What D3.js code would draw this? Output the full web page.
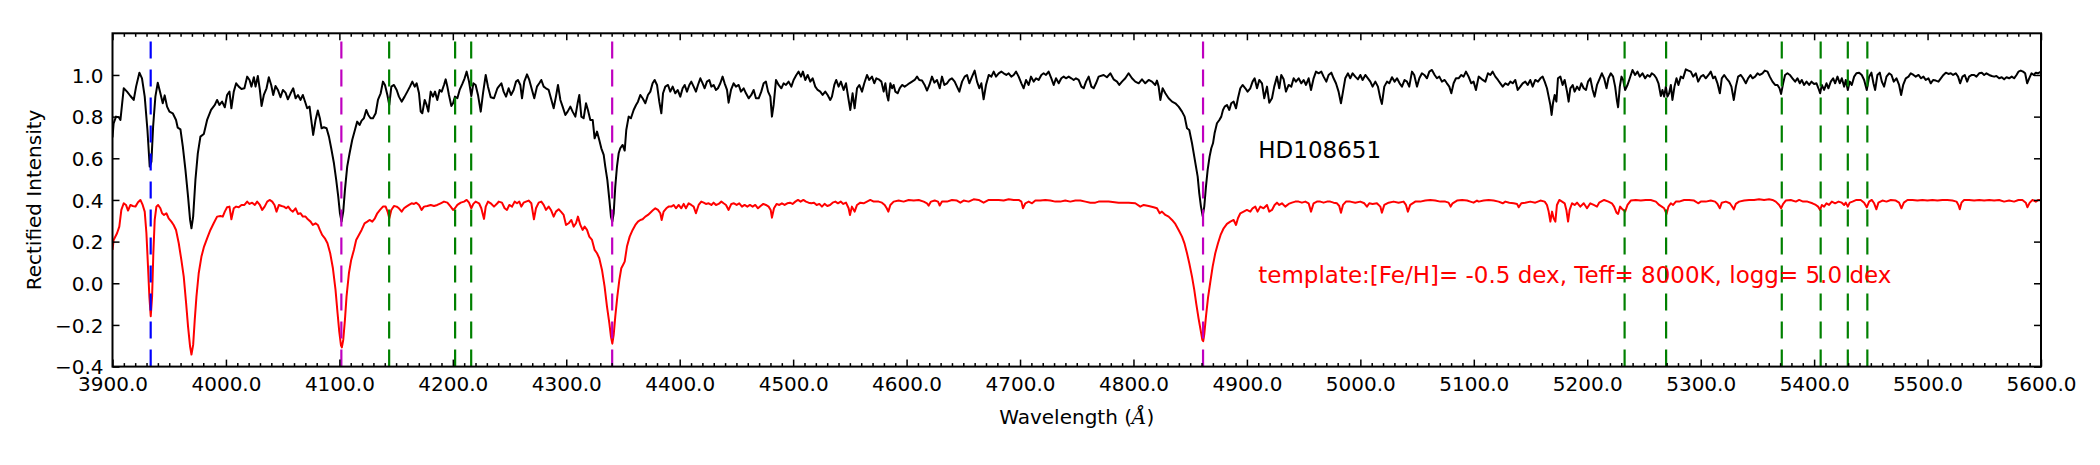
<!DOCTYPE html>
<html><head><meta charset="utf-8">
<script src="https://cdn.jsdelivr.net/npm/d3@7"></script>
<style>
html,body{margin:0;padding:0;background:#fff;}
svg{display:block;}
text{font-family:"DejaVu Sans",sans-serif;}
</style></head><body>
<svg id="chart" width="2100" height="465"></svg>
<script>
// ---------- DATA ----------
// observed spectrum of HD108651: [wavelength (Å), rectified intensity]
const observed = [
[3900,0.70],[3901,0.768],[3903.1,0.80],[3905.5,0.797],[3907,0.784],[3909.9,0.936],[3912.8,0.92],[3915.8,0.899],[3918.7,0.88],[3920.8,0.944],[3923.7,1.011],[3926,0.984],[3928.4,0.896],[3930.8,0.736],[3932.8,0.56],[3934.3,0.584],[3935.8,0.752],[3937.8,0.896],[3939.9,0.963],[3942.2,0.912],[3944.3,0.864],[3946,0.902],[3948.1,0.848],[3950.2,0.824],[3953.1,0.816],[3956,0.784],[3957.5,0.747],[3959.9,0.739],[3962,0.656],[3964.3,0.544],[3966.6,0.416],[3968.4,0.304],[3969.6,0.264],[3971.1,0.32],[3973.1,0.496],[3975.2,0.624],[3977.5,0.704],[3980.5,0.717],[3983.4,0.784],[3986.9,0.832],[3990.2,0.856],[3992.2,0.88],[3994.3,0.856],[3996.6,0.872],[3999,0.845],[4001,0.904],[4003.1,0.92],[4004.8,0.84],[4006.9,0.92],[4009,0.96],[4011.3,0.944],[4013.7,0.933],[4016.3,0.936],[4018.7,0.992],[4020.8,0.976],[4022.5,0.944],[4024.6,0.989],[4026.1,0.944],[4028.1,0.995],[4029.9,0.928],[4031.4,0.851],[4033.4,0.904],[4035.8,0.936],[4037.8,0.989],[4039.9,0.952],[4041.7,0.904],[4043.7,0.947],[4045.8,0.928],[4048.1,0.893],[4050.2,0.928],[4052.5,0.915],[4054.6,0.883],[4057,0.912],[4059.3,0.936],[4061.4,0.888],[4063.5,0.904],[4065.8,0.88],[4067.8,0.904],[4070.2,0.864],[4071.6,0.84],[4073.7,0.848],[4075.2,0.784],[4076.9,0.712],[4079,0.784],[4081,0.829],[4082.8,0.792],[4084.3,0.744],[4086.3,0.749],[4088.7,0.744],[4090.8,0.704],[4092.8,0.648],[4095.2,0.576],[4097.2,0.496],[4099,0.416],[4100.5,0.336],[4101.9,0.296],[4103.4,0.344],[4104.9,0.448],[4106.9,0.56],[4109,0.624],[4111.3,0.688],[4113.7,0.736],[4115.7,0.776],[4117.8,0.76],[4119.6,0.781],[4121.6,0.792],[4123.7,0.832],[4125.5,0.808],[4127.5,0.792],[4129.6,0.792],[4132,0.816],[4134,0.88],[4136.4,0.912],[4138.4,0.968],[4140.2,0.952],[4142.3,0.904],[4144,0.856],[4145.8,0.944],[4148.1,0.952],[4150.5,0.928],[4152.5,0.896],[4154.9,0.872],[4157.5,0.896],[4159.9,0.92],[4162.2,0.944],[4164.3,0.968],[4166.4,0.944],[4168.1,0.96],[4170.2,0.912],[4171.7,0.824],[4173.1,0.816],[4175.2,0.88],[4176.9,0.856],[4178.4,0.824],[4180.5,0.92],[4182.5,0.896],[4184.3,0.92],[4186.3,0.88],[4188.4,0.928],[4190.2,0.92],[4192.2,0.952],[4193.7,0.979],[4195.2,0.944],[4196.6,0.904],[4198.7,0.851],[4200.2,0.864],[4201.9,0.896],[4204,0.888],[4206,0.928],[4208.4,0.957],[4210.4,0.984],[4212.2,1.016],[4214.3,0.968],[4216.3,0.899],[4218.1,0.96],[4220.1,0.952],[4222.2,0.904],[4224.6,0.824],[4226.6,0.912],[4229,1.0],[4231,0.944],[4233.4,0.893],[4236.3,0.888],[4239.3,0.936],
[4240.4,0.944],[4242.8,0.96],[4244.8,0.92],[4246.9,0.896],[4249.2,0.936],[4251.3,0.904],[4253.6,0.928],[4255.7,0.968],[4257.4,0.976],[4259.5,0.952],[4261,0.888],[4263,0.968],[4265.4,1.003],[4267.4,0.976],[4269.8,0.928],[4271.8,0.888],[4274.2,0.944],[4276.2,0.96],[4278,0.976],[4280.1,0.944],[4282.1,0.936],[4284.5,0.928],[4286.5,0.888],[4288.9,0.84],[4290.9,0.896],[4292.7,0.952],[4294.8,0.88],[4296.8,0.848],[4299.2,0.808],[4301.2,0.824],[4303.6,0.848],[4305.6,0.824],[4308,0.80],[4310,0.864],[4311.5,0.904],[4313.3,0.80],[4315.3,0.792],[4317.4,0.864],[4319.1,0.832],[4321.2,0.784],[4323.3,0.784],[4325,0.696],[4327.1,0.728],[4329.1,0.688],[4330.9,0.648],[4333,0.616],[4334.4,0.56],[4336.2,0.496],[4338,0.40],[4339.4,0.32],[4340.6,0.296],[4341.8,0.336],[4343.2,0.464],[4344.7,0.56],[4346.2,0.624],[4347.6,0.648],[4349.7,0.664],[4351.5,0.637],[4352.9,0.736],[4355,0.80],[4357,0.792],[4359.4,0.832],[4361.5,0.856],[4363.2,0.872],[4365.3,0.904],[4367.3,0.888],[4369.7,0.864],[4372,0.904],[4374.1,0.92],[4376.1,0.96],[4377.9,0.976],[4380,0.952],[4382,0.872],[4383.8,0.816],[4385.3,0.912],[4387.3,0.944],[4389.7,0.952],[4391.7,0.92],[4393.8,0.944],[4396.1,0.912],[4398.2,0.928],[4400.5,0.896],[4402.6,0.936],[4404.4,0.952],[4406.4,0.92],[4408.5,0.952],[4410.2,0.968],[4412.3,0.944],[4414.3,0.92],[4416.1,0.952],[4418.2,0.984],[4420.2,0.96],[4422,0.936],[4424,0.968],[4426.1,0.976],[4427.9,0.944],[4429.9,0.952],[4432,0.928],[4433.7,0.936],[4435.8,0.96],[4437.8,0.992],[4439.6,0.96],[4441.7,0.928],[4443.1,0.867],[4445.2,0.928],[4447.5,0.96],[4449.6,0.944],[4452,0.952],[4454,0.92],[4456.4,0.936],[4458.4,0.912],[4460.8,0.888],[4463.1,0.904],[4465.2,0.928],[4467.2,0.888],[4469.6,0.888],[4471.9,0.92],[4474,0.96],[4476,0.968],[4477.9,0.92],[4479.9,0.896],[4481.3,0.80],[4482.8,0.856],[4484.9,0.976],[4487.2,0.952],[4489.6,0.936],[4491.6,0.96],[4493.7,0.952],[4496,0.968],[4498.4,0.944],[4500.4,0.976],[4502.8,1.0],[4504.8,1.016],[4506.9,0.992],[4508.6,1.016],[4510.7,0.976],[4512.8,1.0],[4515.1,0.968],[4517.2,0.984],[4519.5,0.944],[4521.6,0.928],[4523.9,0.92],[4526,0.904],[4528.3,0.92],[4530.4,0.904],[4532.7,0.88],[4534.2,0.896],[4536.3,0.952],[4538,0.976],[4540.1,0.944],[4542.1,0.968],[4544.5,0.928],[4546.6,0.96],[4548.9,0.88],[4550.4,0.832],[4552.4,0.912],[4554.2,0.84],[4556.3,0.936],[4558.3,0.952],[4560.7,0.92],[4562.7,0.96],[4565.1,1.0],[4567.1,0.976],[4569.5,0.992],[4571.5,0.96],[4573.3,0.984],
[4575.4,0.979],[4577.8,0.968],[4579.8,0.92],[4581.3,0.96],[4582.7,0.904],[4583.9,0.877],[4585.7,0.96],[4587.2,0.936],[4588.6,0.952],[4590.1,0.92],[4592.1,0.912],[4593.9,0.936],[4596,0.952],[4598.3,0.944],[4600.4,0.952],[4602.4,0.96],[4604.8,0.968],[4607.1,0.976],[4609.2,0.992],[4611.2,0.976],[4613.6,0.973],[4615.9,0.952],[4618,0.925],[4620.1,0.952],[4622.4,0.992],[4624.5,0.963],[4626.8,0.976],[4629.2,0.936],[4631.2,0.992],[4633.3,0.952],[4635.6,0.96],[4637.7,0.976],[4640,0.984],[4642.4,0.968],[4644.4,0.944],[4646.5,0.92],[4648.9,0.968],[4651.2,0.992],[4653.3,1.0],[4655.3,0.96],[4657.7,0.992],[4660,1.021],[4662.1,0.968],[4664.1,0.936],[4665.9,0.96],[4667.9,0.883],[4670,0.952],[4672.4,1.0],[4674.7,0.992],[4676.8,1.016],[4678.8,0.992],[4681.2,1.008],[4683.5,1.016],[4685.6,1.008],[4687.9,1.0],[4690,1.008],[4692.3,0.992],[4694.4,1.0],[4696.5,1.016],[4698.8,0.992],[4701.2,0.96],[4703.2,0.936],[4705.3,0.976],[4707.6,0.952],[4709.7,0.992],[4712,0.968],[4714.1,0.984],[4716.4,0.976],[4718.8,1.0],[4720.8,1.008],[4722.9,1.0],[4725.2,1.016],[4727.6,0.984],[4729.7,0.952],[4731.7,0.984],[4734.1,0.96],[4736.4,0.984],[4738.5,0.992],[4740.5,0.984],[4742.9,0.992],[4745.2,0.984],[4747.3,0.976],[4749.3,0.984],[4751.7,0.976],[4754.1,0.944],[4756.1,0.936],[4758.2,0.968],[4760.5,0.992],[4762.9,0.944],[4764.9,0.936],[4767,0.96],
[4769.3,0.992],[4773.7,1.0],[4776.6,0.989],[4779.6,1.008],[4782.5,0.979],[4785.5,0.968],[4787.5,0.952],[4789.9,0.968],[4792.8,0.984],[4795.7,1.008],[4798.7,0.984],[4801.6,0.968],[4804.6,0.96],[4807.5,0.979],[4810.4,0.96],[4813.4,0.976],[4816.3,0.968],[4819.2,0.952],[4820.7,0.973],[4822.2,0.944],[4823.7,0.88],[4825.7,0.936],[4828.1,0.912],[4831,0.888],[4834,0.872],[4836.9,0.864],[4839.8,0.848],[4842.8,0.824],[4845.1,0.80],[4847.2,0.744],[4849.2,0.736],[4851.6,0.672],[4853.6,0.608],[4855.1,0.56],[4856.6,0.512],[4858,0.432],[4859.5,0.368],[4861,0.322],[4862.4,0.368],[4863.9,0.464],[4865.4,0.544],[4867.1,0.608],[4868.6,0.648],[4870.1,0.672],[4871.5,0.72],[4873.6,0.768],[4875.7,0.784],[4877.4,0.80],[4878.9,0.832],[4880.4,0.848],[4882.4,0.856],[4884.5,0.832],[4886.2,0.864],[4888.3,0.872],[4890.4,0.84],[4892.1,0.888],[4894.2,0.936],[4896.2,0.952],[4898.6,0.936],[4900.6,0.92],[4903,0.936],[4905,0.968],[4906.8,0.984],[4908.9,0.936],[4910.9,0.976],[4913.3,0.96],[4915.3,0.888],[4917.7,0.944],[4919.7,0.867],[4922.1,0.888],[4924.1,0.944],[4926.5,0.992],[4928.5,0.936],[4930.3,1.0],[4932.4,0.979],[4934.4,0.92],[4936.8,0.952],[4939.1,0.944],[4941.2,0.984],[4943.2,0.968],[4945.6,0.984],[4947.9,0.96],[4950,0.976],[4952.1,0.952],[4954.4,0.984],[4956.5,0.928],[4958.8,0.984],[4960.9,1.016],[4963.2,1.008],[4965.6,1.016],[4967.6,0.992],[4970,0.968],[4972,1.0],[4974.4,1.011],[4976.4,0.984],[4978.5,0.96],[4980.8,0.92],[4982.9,0.864],[4984.7,0.92],[4986.7,0.984],[4989.1,1.008],[4991.1,0.984],[4993.2,1.008],[4995.5,0.992],[4997.9,0.979],[5000,1.0],[5002,0.976],[5004.4,1.0],[5006.7,0.984],[5008.8,0.968],[5010.8,0.944],[5013.2,0.968],[5015.5,0.944],[5017.6,0.888],[5019,0.861],[5021.1,0.944],[5023.5,0.968],[5025.5,0.96],[5027.9,0.989],[5030.2,0.968],[5032.3,0.984],[5034.6,0.96],[5036.7,0.944],[5039,0.976],[5041.1,0.968],[5043.1,0.944],[5045.5,1.016],[5047.5,1.0],[5049.9,0.944],[5052,0.984],[5054.3,1.008],[5056.4,1.0],[5058.7,0.984],[5060.8,1.016],[5063.1,1.024],[5065.5,1.0],[5067.5,0.984],[5069.6,0.992],[5071.9,0.968],[5074.3,0.976],[5076.3,0.96],[5078.4,0.944],[5080.2,0.912],[5082.2,0.96],[5084.3,0.984],[5086.6,0.984],[5089,1.0],[5091,0.992],[5093.1,1.016],[5095.4,0.992],[5097.8,0.96],[5099.8,0.968],[5101.9,0.928],
[5104.3,0.992],[5107.2,0.979],[5110.2,0.968],[5112.5,1.008],[5114.6,1.0],[5116.6,1.016],[5119,0.992],[5121.3,0.976],[5123.4,0.96],[5125.5,0.944],[5127.8,0.96],[5130.2,0.952],[5132.2,0.968],[5134.3,0.96],[5136.6,0.976],[5138.7,0.928],[5141,0.944],[5143.1,0.96],[5145.4,0.968],[5147.5,0.952],[5149.8,0.976],[5151.9,0.944],[5154.2,0.976],[5156.6,0.968],[5158.7,0.984],[5160.7,0.992],[5162.5,0.968],[5164.5,0.936],[5166,0.896],[5167.5,0.856],[5168.6,0.808],[5169.8,0.864],[5171.3,0.904],[5172.8,0.872],[5174.2,0.984],[5176.3,0.992],[5178.3,0.952],[5180.1,0.976],[5182.2,0.92],[5183.6,0.872],[5185.1,0.936],[5187.2,0.952],[5188.9,0.92],[5191,0.944],[5193,0.928],[5194.8,0.96],[5196.9,0.936],[5198.9,0.928],[5200.7,0.968],[5202.7,0.984],[5204.8,0.928],[5206.5,0.896],[5208.6,0.952],
[5210.5,0.976],[5212.9,1.008],[5214.9,0.984],[5217,0.936],[5218.7,0.984],[5220.8,1.008],[5222.8,0.992],[5224.6,0.944],[5226.1,0.88],[5227.2,0.845],[5228.7,0.944],[5230.2,0.992],[5231.7,0.976],[5233.4,0.928],[5235.5,0.952],[5237.5,0.984],[5239.9,1.024],[5242.2,1.0],[5244.3,1.016],[5246.3,0.992],[5248.7,1.008],[5251,0.984],[5253.1,1.0],[5255.2,0.992],[5256.9,1.008],[5259,1.0],[5261,0.984],[5262.8,0.96],[5264.9,0.899],[5266.3,0.928],[5267.8,0.896],[5269.3,0.944],[5270.7,0.896],[5272.2,0.912],[5273.7,0.952],[5275.1,0.88],[5276.9,0.944],[5278.7,0.984],[5280.4,0.952],[5282.5,0.992],[5284.5,0.984],[5286.9,1.027],[5289.2,1.021],[5291.3,1.016],[5293.4,0.992],[5295.7,1.008],[5297.8,0.968],[5300.1,0.992],[5302.2,1.0],[5304.5,0.984],[5306.9,1.0],[5308.9,1.016],[5311,0.984],[5312.7,0.992],[5314.8,0.96],[5316.9,0.912],[5318.6,0.984],[5320.7,1.0],[5322.7,0.984],[5325.1,0.968],[5327.1,0.944],[5329.2,0.88],[5331,0.944],[5333,0.992],[5335.4,1.0],[5337.4,0.984],[5339.8,0.96],[5341.8,0.984],[5343.9,1.0],[5345.7,0.984],[5348,0.992],[5350.1,1.008],[5352.1,1.0],[5354.5,1.008],[5356.5,1.021],[5358.9,1.016],[5360.9,0.992],[5363.3,0.968],[5365.6,0.952],[5367.7,0.952],[5369.5,0.936],[5370.9,0.909],[5372.7,0.96],[5374.4,1.0],[5376.5,1.008],[5378.6,1.0],[5380.9,0.984],[5383.3,0.968],[5385.3,0.984],[5387.4,0.96],[5389.1,0.976],[5391.2,0.952],[5393.3,0.968],[5395.6,0.952],[5397.7,0.968],[5400,0.957],[5402.1,0.96],[5403.8,0.936],[5405.3,0.912],[5406.8,0.952],[5408.8,0.928],[5410.9,0.96],[5412.6,0.936],[5414.7,0.968],[5416.8,0.984],[5418.5,0.96],[5420.6,0.992],[5422.6,0.96],[5424.4,0.984],[5426.5,0.944],[5427.9,0.976],[5429.7,0.928],[5431.4,0.968],[5433.2,0.952],[5435.3,0.992],[5437.3,1.008],[5439.7,1.011],[5442,1.0],[5444.1,0.976],[5446.4,0.928],[5448.5,0.992],[5450.5,1.011],[5452.3,0.96],[5453.8,0.928],[5455.8,1.0],[5457.9,1.011],[5459.7,0.968],[5461.7,0.944],[5463.8,0.992],[5466.1,1.008],[5468.2,1.0],[5470.2,0.968],[5472.6,0.984],[5474.9,0.952],[5476.7,0.904],[5478.5,0.952],[5480.8,0.984],[5483.2,0.992],[5485.2,1.008],[5487.6,1.0],[5489.6,0.992],[5492,1.0],[5494.3,0.984],[5496.4,0.992],[5498.4,0.976],[5500.8,0.984],[5502.8,0.96],[5504.9,0.976],[5507.3,0.973],[5509.6,0.968],[5511.7,0.984],[5514,1.0],[5516.1,1.011],[5518.4,1.005],[5520.5,1.008],[5522.5,1.0],[5524.9,1.008],[5526.9,0.992],[5528.7,0.96],[5530.8,0.992],[5532.8,1.0],[5534.9,0.968],[5536.6,0.992],[5539,1.0],[5541.1,1.0],[5543.1,0.992],[5545.5,1.008],[5547.8,1.011],[5549.9,1.0],[5551.9,1.008],[5554.3,1.0],[5556.6,0.995],[5558.7,0.992],[5560.7,0.995],[5563.1,0.984],[5565.4,0.989],[5567.5,0.979],[5569.6,0.989],[5571.9,0.984],[5574.2,0.992],[5576.3,0.984],[5578.4,1.0],[5580.1,1.016],[5582.2,1.021],[5584.2,1.016],[5586,1.008],[5587.8,0.96],[5589.6,0.984],[5591.6,1.008],[5593.6,1.0],[5595.4,1.011],[5597.2,1.008],[5600,1.016]
];

// synthetic template spectrum (offset): [wavelength (Å), rectified intensity]
const template = [
[3900,0.16],[3901,0.208],[3904,0.24],[3906,0.272],[3907.8,0.352],[3909.9,0.384],[3911.9,0.376],[3913.7,0.349],[3915.8,0.376],[3917.8,0.371],[3920.2,0.368],[3922.5,0.389],[3924.6,0.40],[3926.6,0.376],[3928.4,0.344],[3929.9,0.24],[3931.3,0.08],[3932.5,-0.064],[3933.7,-0.158],[3934.9,-0.064],[3936,0.144],[3937.2,0.304],[3938.7,0.368],[3940.2,0.376],[3942.2,0.36],[3943.7,0.336],[3945.4,0.328],[3947.5,0.336],[3949.5,0.312],[3951.9,0.296],[3953.9,0.28],[3956,0.256],[3958.4,0.192],[3960.7,0.112],[3962.8,0.032],[3964.9,-0.096],[3966.6,-0.208],[3968.4,-0.304],[3969.6,-0.342],[3971.1,-0.296],[3972.5,-0.176],[3974,-0.064],[3976,0.048],[3978.4,0.128],[3980.7,0.176],[3983.4,0.216],[3986.3,0.256],[3989.2,0.288],[3992.2,0.32],[3995.1,0.323],[3997.2,0.32],[3999,0.344],[4001,0.365],[4003.1,0.368],[4004.8,0.307],[4006.9,0.36],[4009,0.368],[4011.3,0.365],[4013.7,0.376],[4016.3,0.376],[4018.7,0.392],[4020.8,0.381],[4023.1,0.387],[4025.5,0.376],[4027.5,0.392],[4029.9,0.376],[4032,0.352],[4034.1,0.368],[4036.4,0.392],[4038.5,0.40],[4040.8,0.392],[4042.8,0.376],[4044.6,0.344],[4046.7,0.376],[4049,0.371],[4051.1,0.368],[4053.1,0.36],[4054.9,0.368],[4057,0.352],[4059,0.344],[4061.4,0.36],[4063.5,0.333],[4065.8,0.336],[4067.8,0.32],[4070.2,0.32],[4072.2,0.307],[4074.6,0.296],[4076.6,0.28],[4079,0.288],[4081,0.28],[4082.8,0.256],[4084.8,0.232],[4087.2,0.216],[4089.5,0.192],[4091.9,0.144],[4094.3,0.072],[4096.6,-0.032],[4098.4,-0.144],[4099.9,-0.232],[4101.4,-0.298],[4102.2,-0.308],[4103.4,-0.272],[4104.9,-0.176],[4106.3,-0.064],[4108.4,0.048],[4110.4,0.112],[4112.8,0.16],[4114.8,0.208],[4117.2,0.232],[4119.6,0.256],[4122.2,0.288],[4124.6,0.296],[4126.6,0.304],[4129,0.296],[4131.3,0.312],[4133.4,0.336],[4135.8,0.352],[4138.4,0.368],[4140.8,0.368],[4142.5,0.344],[4144,0.312],[4145.8,0.352],[4148.1,0.371],[4150.5,0.368],[4152.5,0.36],[4154.9,0.344],[4157,0.36],[4159,0.368],[4161.4,0.376],[4163.7,0.384],[4165.8,0.381],[4167.8,0.387],[4170.2,0.376],[4172.5,0.352],[4174.6,0.368],[4177.5,0.371],[4180.5,0.376],[4183.4,0.371],[4186.3,0.376],[4189.3,0.384],[4192.2,0.392],[4195.2,0.387],[4198.1,0.368],[4200.2,0.352],[4201.9,0.36],[4204,0.376],[4207,0.387],[4209.9,0.392],[4212.2,0.40],[4214.3,0.387],[4216.3,0.36],[4218.1,0.381],[4220.1,0.392],[4223.1,0.384],[4225.1,0.36],[4227.5,0.309],[4229,0.368],[4231,0.392],[4233.4,0.384],[4236.3,0.368],[4239.3,0.384],
[4240.4,0.392],[4243.3,0.387],[4245.7,0.36],[4247.7,0.352],[4249.8,0.376],[4252.2,0.368],[4254.5,0.392],[4256.6,0.384],[4258.6,0.392],[4260.4,0.368],[4262.4,0.387],[4264.5,0.392],[4266.8,0.397],[4269.2,0.384],[4271.5,0.307],[4273.3,0.36],[4275.7,0.387],[4278,0.392],[4280.1,0.376],[4282.1,0.352],[4284.5,0.368],[4286.5,0.352],[4288.9,0.32],[4290.9,0.344],[4293.3,0.355],[4295.3,0.344],[4297.7,0.328],[4299.8,0.28],[4302.1,0.288],[4304.5,0.304],[4306.5,0.272],[4308.6,0.288],[4310.3,0.32],[4312.4,0.28],[4314.4,0.256],[4316.2,0.272],[4318.3,0.256],[4320.3,0.224],[4322.7,0.208],[4325,0.16],[4327.1,0.144],[4329.1,0.12],[4331.5,0.064],[4333.8,-0.016],[4335.9,-0.112],[4338,-0.192],[4339.4,-0.256],[4340.6,-0.29],[4341.8,-0.248],[4343.2,-0.16],[4345,-0.064],[4346.8,0.016],[4348.5,0.072],[4350,0.088],[4351.5,0.104],[4353.5,0.176],[4355.9,0.224],[4358.5,0.256],[4360.9,0.28],[4363.2,0.296],[4365.3,0.304],[4367.3,0.307],[4369.7,0.32],[4372,0.328],[4374.1,0.339],[4376.1,0.349],[4378.5,0.36],[4380.8,0.352],[4382.9,0.336],[4384.1,0.304],[4385.8,0.344],[4388.2,0.36],[4390.2,0.368],[4392.6,0.368],[4394.7,0.376],[4396.7,0.36],[4399.1,0.376],[4401.4,0.36],[4403.5,0.381],[4405.5,0.36],[4407.9,0.384],[4410.2,0.376],[4412.3,0.368],[4414.3,0.336],[4416.7,0.376],[4419,0.392],[4421.1,0.387],[4423.1,0.381],[4425.5,0.384],[4427.9,0.376],[4429.9,0.387],[4432,0.376],[4434.3,0.381],[4436.7,0.392],[4438.7,0.384],[4440.8,0.376],[4443.1,0.352],[4445.5,0.381],[4447.8,0.384],[4450.2,0.376],[4452.5,0.384],[4454.9,0.368],[4457.2,0.376],[4459.6,0.368],[4461.9,0.376],[4464.3,0.368],[4466.6,0.376],[4469,0.36],[4471.3,0.371],[4473.7,0.381],[4476,0.376],[4478.4,0.368],[4480.2,0.352],[4481.3,0.315],[4483.1,0.36],[4485.4,0.381],[4487.8,0.376],[4490.1,0.384],[4492.5,0.376],[4494.8,0.384],[4497.2,0.387],[4499.5,0.381],[4501.9,0.392],[4504.3,0.40],[4506.6,0.392],[4509,0.40],[4511.3,0.392],[4513.6,0.387],[4516,0.384],[4518.4,0.387],[4520.7,0.376],[4523.1,0.381],[4525.4,0.368],[4527.7,0.381],[4530.1,0.371],[4532.5,0.376],[4534.8,0.387],[4537.2,0.392],[4539.5,0.384],[4541.9,0.392],[4544.2,0.381],[4546.6,0.387],[4548.9,0.36],[4550.1,0.328],[4551.8,0.368],[4554.2,0.344],[4556.3,0.376],[4559.2,0.387],[4562.1,0.384],[4565.1,0.392],[4568,0.40],[4571,0.392],[4573.9,0.392],
[4575.4,0.392],[4578.3,0.387],[4580.7,0.376],[4582.5,0.36],[4583.9,0.344],[4585.7,0.376],[4588.6,0.392],[4593,0.397],[4597.4,0.392],[4601.8,0.40],[4606.3,0.397],[4610.7,0.40],[4615.1,0.392],[4618,0.384],[4619.5,0.373],[4621.5,0.392],[4624.8,0.397],[4627.7,0.392],[4629.2,0.373],[4631.2,0.392],[4635.6,0.392],[4640,0.40],[4644.4,0.397],[4647.4,0.387],[4650.3,0.397],[4654.7,0.392],[4659.1,0.403],[4663.5,0.40],[4667.9,0.387],[4672.4,0.40],[4676.8,0.40],[4681.2,0.40],[4685.6,0.397],[4690,0.403],[4694.4,0.40],[4698.8,0.40],[4701.2,0.392],[4702.6,0.36],[4704.7,0.384],[4707.6,0.392],[4710.6,0.384],[4713.5,0.397],[4717.9,0.397],[4722.3,0.40],[4726.7,0.397],[4731.1,0.392],[4735.5,0.392],[4739.9,0.397],[4744.3,0.392],[4748.8,0.397],[4753.2,0.397],[4757.6,0.392],[4762,0.387],[4766.4,0.387],
[4769.3,0.392],[4778.1,0.392],[4786.9,0.387],[4795.7,0.387],[4801.6,0.384],[4806,0.368],[4809,0.376],[4813.4,0.371],[4817.8,0.365],[4820.7,0.36],[4823.1,0.336],[4825.1,0.344],[4828.1,0.328],[4831,0.32],[4834,0.304],[4836.9,0.285],[4839.8,0.256],[4842.8,0.224],[4845.1,0.189],[4847.2,0.144],[4849.2,0.096],[4851.6,0.032],[4853.6,-0.032],[4855.4,-0.1],[4857.4,-0.17],[4859.2,-0.225],[4860.7,-0.272],[4861.5,-0.278],[4862.4,-0.245],[4863.9,-0.16],[4865.7,-0.07],[4867.7,0.005],[4869.8,0.08],[4872.1,0.144],[4874.5,0.192],[4876.8,0.232],[4879.5,0.264],[4882.4,0.285],[4885.4,0.296],[4888.3,0.304],[4890.4,0.28],[4892.1,0.312],[4894.2,0.336],[4897.1,0.344],[4900,0.352],[4903,0.344],[4905,0.36],[4907.4,0.368],[4909.4,0.344],[4911.8,0.368],[4914.7,0.36],[4917.7,0.376],[4919.7,0.344],[4922.1,0.352],[4924.4,0.376],[4926.5,0.387],[4928.5,0.376],[4930.9,0.384],[4933.8,0.368],[4936.8,0.381],[4939.7,0.387],[4942.6,0.392],[4945.6,0.392],[4948.5,0.387],[4951.5,0.392],[4954.4,0.384],[4956.5,0.344],[4958.8,0.384],[4961.7,0.392],[4964.7,0.392],[4967.6,0.387],[4970.6,0.392],[4973.5,0.392],[4976.4,0.387],[4979.4,0.384],[4981.4,0.371],[4982.9,0.339],[4984.7,0.376],[4987.3,0.392],[4991.1,0.392],[4995.5,0.387],[5000,0.392],[5003.5,0.384],[5005.8,0.368],[5007.9,0.384],[5010.8,0.381],[5014.6,0.384],[5017.6,0.368],[5019,0.339],[5021.1,0.376],[5024.9,0.387],[5029.3,0.392],[5033.7,0.387],[5038.1,0.392],[5040.2,0.376],[5041.9,0.344],[5044,0.376],[5048.4,0.392],[5052.8,0.392],[5057.2,0.397],[5061.6,0.40],[5066,0.397],[5070.5,0.392],[5074.9,0.392],[5077.8,0.387],[5079.6,0.368],[5081.3,0.384],[5085.2,0.397],[5089.7,0.40],[5094.1,0.397],[5097,0.392],[5099.8,0.387],[5102.8,0.397],
[5104.3,0.392],[5108.7,0.397],[5113.1,0.40],[5117.5,0.397],[5121.9,0.392],[5125.5,0.384],[5127.8,0.392],[5131.3,0.387],[5135.2,0.384],[5138.1,0.381],[5139.6,0.365],[5141.9,0.384],[5145.4,0.387],[5149.8,0.392],[5154.2,0.387],[5158.7,0.397],[5162.5,0.392],[5164.5,0.376],[5166,0.344],[5167.5,0.296],[5169,0.344],[5170.4,0.312],[5171.9,0.296],[5173.3,0.376],[5175.4,0.40],[5177.8,0.392],[5180.1,0.384],[5181.6,0.352],[5183.1,0.296],[5184.5,0.352],[5186.6,0.384],[5188.9,0.376],[5191,0.387],[5193.9,0.368],[5196.9,0.384],[5199.8,0.36],[5202.7,0.384],[5205.7,0.376],[5208.6,0.368],
[5210.5,0.387],[5214.9,0.40],[5218.7,0.392],[5221.7,0.384],[5223.7,0.368],[5225.8,0.339],[5227.2,0.333],[5229,0.368],[5231.1,0.355],[5233.4,0.344],[5235.5,0.376],[5238.4,0.397],[5242.8,0.40],[5247.2,0.397],[5251.6,0.40],[5256,0.40],[5260.5,0.392],[5263.4,0.376],[5265.7,0.368],[5267.8,0.36],[5269.9,0.333],[5271.6,0.368],[5273.7,0.384],[5275.7,0.376],[5278.1,0.392],[5281,0.392],[5285.4,0.40],[5289.8,0.40],[5294.2,0.397],[5297.8,0.384],[5300.1,0.392],[5304.5,0.392],[5308.9,0.397],[5312.7,0.392],[5314.8,0.381],[5316.9,0.36],[5318.6,0.387],[5322.2,0.392],[5325.7,0.384],[5327.4,0.371],[5329.2,0.355],[5331,0.381],[5333.9,0.392],[5338.3,0.397],[5342.7,0.40],[5347.1,0.40],[5351.5,0.403],[5355.9,0.40],[5360.3,0.403],[5363.3,0.40],[5366.2,0.392],[5369.2,0.376],[5370.9,0.36],[5372.7,0.381],[5375,0.397],[5379.4,0.40],[5383.9,0.392],[5386.8,0.40],[5390.3,0.392],[5394.1,0.392],[5398.5,0.384],[5401.5,0.376],[5403.5,0.368],[5405.3,0.352],[5406.8,0.376],[5408.8,0.368],[5410.9,0.384],[5413.2,0.376],[5415.6,0.392],[5418.5,0.384],[5421.5,0.392],[5424.4,0.387],[5426.5,0.376],[5427.9,0.387],[5429.7,0.368],[5431.4,0.387],[5433.8,0.392],[5437.3,0.40],[5441.1,0.40],[5444.1,0.387],[5446.4,0.365],[5448.5,0.392],[5450.8,0.40],[5452.9,0.384],[5454.9,0.355],[5456.7,0.387],[5460.2,0.397],[5463.8,0.392],[5467.6,0.40],[5472,0.397],[5474.9,0.387],[5477,0.36],[5479.1,0.387],[5482.3,0.40],[5486.7,0.40],[5491.1,0.397],[5495.5,0.40],[5499.9,0.397],[5504.3,0.40],[5508.7,0.397],[5513.1,0.40],[5517.5,0.40],[5521.9,0.397],[5525.5,0.392],[5527.2,0.376],[5528.4,0.355],[5529.9,0.387],[5532.2,0.40],[5536.6,0.40],[5541.1,0.397],[5545.5,0.40],[5549.9,0.397],[5554.3,0.40],[5558.7,0.397],[5563.1,0.40],[5567.5,0.392],[5571.9,0.397],[5576.3,0.392],[5580.1,0.40],[5583.6,0.40],[5586.6,0.387],[5588,0.365],[5590.1,0.387],[5592.5,0.40],[5595.4,0.392],[5597.7,0.40],[5600,0.40]
];

// marked lines (Å)
const caLines = [3933.66];                                   // blue
const balmerLines = [4101.74, 4340.47, 4861.34];             // magenta
const feLines = [4143.87, 4202.03, 4216.18, 5232.94, 5269.54, 5371.49, 5405.77, 5429.70, 5446.92]; // green

// axes
const xDomain = [3900, 5600];
const yDomain = [-0.4, 1.2];
const xTickValues = [3900,4000,4100,4200,4300,4400,4500,4600,4700,4800,4900,5000,5100,5200,5300,5400,5500,5600];
const yTickValues = [-0.4,-0.2,0.0,0.2,0.4,0.6,0.8,1.0];
const xLabelText = "Wavelength (";
const xLabelUnit = "Å";
const yLabelText = "Rectified Intensity";
const starLabel = {x: 4910, y: 0.6, text: "HD108651"};
const templateLabel = {x: 4910, y: 0.0, text: "template:[Fe/H]= -0.5 dex, Teff= 8000K, logg= 5.0 dex"};

// ---------- DRAWING ----------
const W = 2100, H = 465;
const plot = {left: 112.5, right: 2041, top: 33.3, bottom: 366.6};
const svg = d3.select("#chart");
svg.append("rect").attr("width", W).attr("height", H).attr("fill", "#fff");

const x = d3.scaleLinear().domain(xDomain).range([plot.left, plot.right]);
const y = d3.scaleLinear().domain(yDomain).range([plot.bottom, plot.top]);

svg.append("defs").append("clipPath").attr("id", "clip")
  .append("rect").attr("x", plot.left).attr("y", plot.top)
  .attr("width", plot.right - plot.left).attr("height", plot.bottom - plot.top);

const g = svg.append("g").attr("clip-path", "url(#clip)");
const line = d3.line().x(d => x(d[0])).y(d => y(d[1]));

g.append("path").datum(observed).attr("d", line)
  .attr("fill", "none").attr("stroke", "#000").attr("stroke-width", 2).attr("stroke-linejoin", "round");
g.append("path").datum(template).attr("d", line)
  .attr("fill", "none").attr("stroke", "#ff0000").attr("stroke-width", 2).attr("stroke-linejoin", "round");

function vlines(arr, color) {
  g.selectAll(null).data(arr).enter().append("line")
    .attr("x1", d => x(d)).attr("x2", d => x(d))
    .attr("y1", y(yDomain[0])).attr("y2", y(yDomain[1]))
    .attr("stroke", color).attr("stroke-width", 2.2)
    .attr("stroke-dasharray", "17,11");
}
vlines(caLines, "#0000ff");
vlines(balmerLines, "#bf00bf");
vlines(feLines, "#008000");

// minor x ticks every 10 Å
const minorX = d3.range(xDomain[0], xDomain[1] + 0.1, 10).filter(v => v % 100 !== 0);

function styleAxis(sel) {
  sel.select(".domain").remove();
  sel.selectAll(".tick line").attr("stroke", "#000").attr("stroke-width", 1.5);
  sel.selectAll("text").attr("font-family", "'DejaVu Sans', sans-serif").attr("font-size", 20).attr("fill", "#000");
}

svg.append("g").attr("transform", `translate(0,${plot.bottom})`)
  .call(d3.axisBottom(x).tickValues(xTickValues).tickSizeInner(-7).tickSizeOuter(0).tickPadding(10).tickFormat(d3.format(".1f")))
  .call(styleAxis);
svg.append("g").attr("transform", `translate(0,${plot.bottom})`)
  .call(d3.axisBottom(x).tickValues(minorX).tickSizeInner(-3.5).tickSizeOuter(0).tickFormat(""))
  .call(styleAxis);
svg.append("g").attr("transform", `translate(0,${plot.top})`)
  .call(d3.axisTop(x).tickValues(xTickValues).tickSizeInner(-7).tickSizeOuter(0).tickFormat(""))
  .call(styleAxis);
svg.append("g").attr("transform", `translate(0,${plot.top})`)
  .call(d3.axisTop(x).tickValues(minorX).tickSizeInner(-3.5).tickSizeOuter(0).tickFormat(""))
  .call(styleAxis);
svg.append("g").attr("transform", `translate(${plot.left},0)`)
  .call(d3.axisLeft(y).tickValues(yTickValues).tickSizeInner(-7).tickSizeOuter(0).tickPadding(9).tickFormat(d3.format(".1f")))
  .call(styleAxis)
  .call(s => s.selectAll("text").attr("dy", "0.36em"));
svg.append("g").attr("transform", `translate(${plot.right},0)`)
  .call(d3.axisRight(y).tickValues(yTickValues).tickSizeInner(-7).tickSizeOuter(0).tickFormat(""))
  .call(styleAxis);

// frame
svg.append("rect").attr("x", plot.left).attr("y", plot.top)
  .attr("width", plot.right - plot.left).attr("height", plot.bottom - plot.top)
  .attr("fill", "none").attr("stroke", "#000").attr("stroke-width", 2);

// axis labels
const xl = svg.append("text").attr("x", (plot.left + plot.right) / 2).attr("y", 424)
  .attr("text-anchor", "middle").attr("font-size", 20).attr("fill", "#000");
xl.append("tspan").text(xLabelText);
xl.append("tspan").attr("font-family", "'DejaVu Serif', serif").attr("font-style", "italic").text(xLabelUnit);
xl.append("tspan").text(")");

svg.append("text").attr("transform", `translate(40.5,${(plot.top + plot.bottom) / 2}) rotate(-90)`)
  .attr("text-anchor", "middle").attr("font-size", 20).attr("fill", "#000").text(yLabelText);

// annotations
svg.append("text").attr("x", x(starLabel.x)).attr("y", y(starLabel.y))
  .attr("font-size", 23).attr("fill", "#000").text(starLabel.text);
svg.append("text").attr("x", x(templateLabel.x)).attr("y", y(templateLabel.y))
  .attr("font-size", 23).attr("fill", "#ff0000").text(templateLabel.text);
</script>
</body></html>
